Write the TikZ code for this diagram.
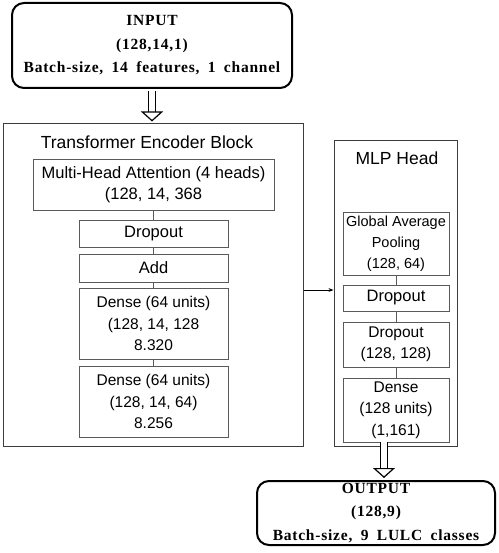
\documentclass[tikz,border=0pt]{standalone}
\usepackage{fontspec}
\setmainfont{Liberation Serif}
\setsansfont{Liberation Sans}
\newfontfamily\iofont[WordSpace=1.8,LetterSpace=5]{Liberation Serif}
\usetikzlibrary{arrows.meta,positioning}
\definecolor{boxline}{HTML}{5A5A5A}
\definecolor{frameline}{HTML}{3C3C3C}
\tikzset{
  iobox/.style={draw=black,line width=2pt,rounded corners=12pt,align=center,inner sep=0pt,
    font=\iofont\bfseries\fontsize{15.5}{23.5}\selectfont},
  layerbox/.style={draw=boxline,line width=0.9pt,align=center,inner sep=0pt,
    font=\sffamily\fontsize{15.5}{21.5}\selectfont},
  bigtext/.style={font=\sffamily\fontsize{16.5}{21.5}\selectfont},
  blockbox/.style={draw=frameline,line width=1pt,inner sep=0pt},
  blocktitle/.style={font=\sffamily\fontsize{17.5}{20}\selectfont},
  hollow/.style={double=white,double distance=6pt,line width=1.2pt,-{Triangle[open,length=10pt,width=22pt]}},
  tline/.style={draw=boxline,line width=0.8pt},
  tarr/.style={-{Stealth[length=5pt]},line width=0.8pt,draw=black}
}
\begin{document}
\begin{tikzpicture}[x=1pt,y=-1pt]
  \useasboundingbox (0,0) rectangle (498,553);
  % input / output
  \node[iobox,minimum width=280,minimum height=85] (input) at (152,45.5)
    {INPUT\\(128,14,1)\\Batch-size, 14 features, 1 channel};
  \node[iobox,minimum width=238,minimum height=64] (output) at (376,513)
    {OUTPUT\\(128,9)\\Batch-size, 9 LULC classes};
  % transformer encoder block
  \node[blockbox,minimum width=300,minimum height=322] (enc) at (153,285) {};
  \node[blocktitle] (enctitle) at (147,142) {Transformer Encoder Block};
  \node[layerbox,bigtext,minimum width=241,minimum height=51] (mha) at (153.5,184.5)
    {Multi-Head Attention (4 heads)\\(128, 14, 368};
  \node[layerbox,bigtext,minimum width=149,minimum height=27] (drop1) at (153.5,233.5) {Dropout};
  \node[layerbox,bigtext,minimum width=149,minimum height=28] (add) at (153.5,268) {Add};
  \node[layerbox,minimum width=149,minimum height=71] (dense1) at (153.5,323.5)
    {Dense (64 units)\\(128, 14, 128\\8.320};
  \node[layerbox,minimum width=149,minimum height=71] (dense2) at (153.5,401.5)
    {Dense (64 units)\\(128, 14, 64)\\8.256};
  % MLP head
  \node[blockbox,minimum width=123,minimum height=305] (mlp) at (395.5,293.5) {};
  \node[blocktitle] (mlptitle) at (397,158) {MLP Head};
  \node[layerbox,minimum width=106,minimum height=63,font=\sffamily\fontsize{14.5}{21}\selectfont] (gap) at (396,243.5)
    {Global Average\\Pooling\\(128, 64)};
  \node[layerbox,bigtext,minimum width=106,minimum height=26] (drop2) at (396,298) {Dropout};
  \node[layerbox,minimum width=106,minimum height=45] (drop3) at (396,344.5)
    {Dropout\\(128, 128)};
  \node[layerbox,minimum width=106,minimum height=64] (dense3) at (396,410)
    {Dense\\(128 units)\\(1,161)};
  % connectors
  \draw[tline] (mha) -- (drop1);
  \draw[tline] (drop1) -- (add);
  \draw[tline] (add) -- (dense1);
  \draw[tline] (dense1) -- (dense2);
  \draw[tline] (gap) -- (drop2);
  \draw[tline] (drop2) -- (drop3);
  \draw[tline] (drop3) -- (dense3);
  \draw[tarr] ([yshift=-5pt]enc.east) -- ([yshift=-5pt]enc.east -| mlp.west);
  \draw[hollow] ([yshift=-2pt]input.south) -- ([yshift=2pt]input.south |- enc.north);
  \draw[hollow] ([xshift=-12pt]dense3.south) -- ([xshift=-12pt,yshift=2pt]dense3.south |- output.north);
\end{tikzpicture}
\end{document}
